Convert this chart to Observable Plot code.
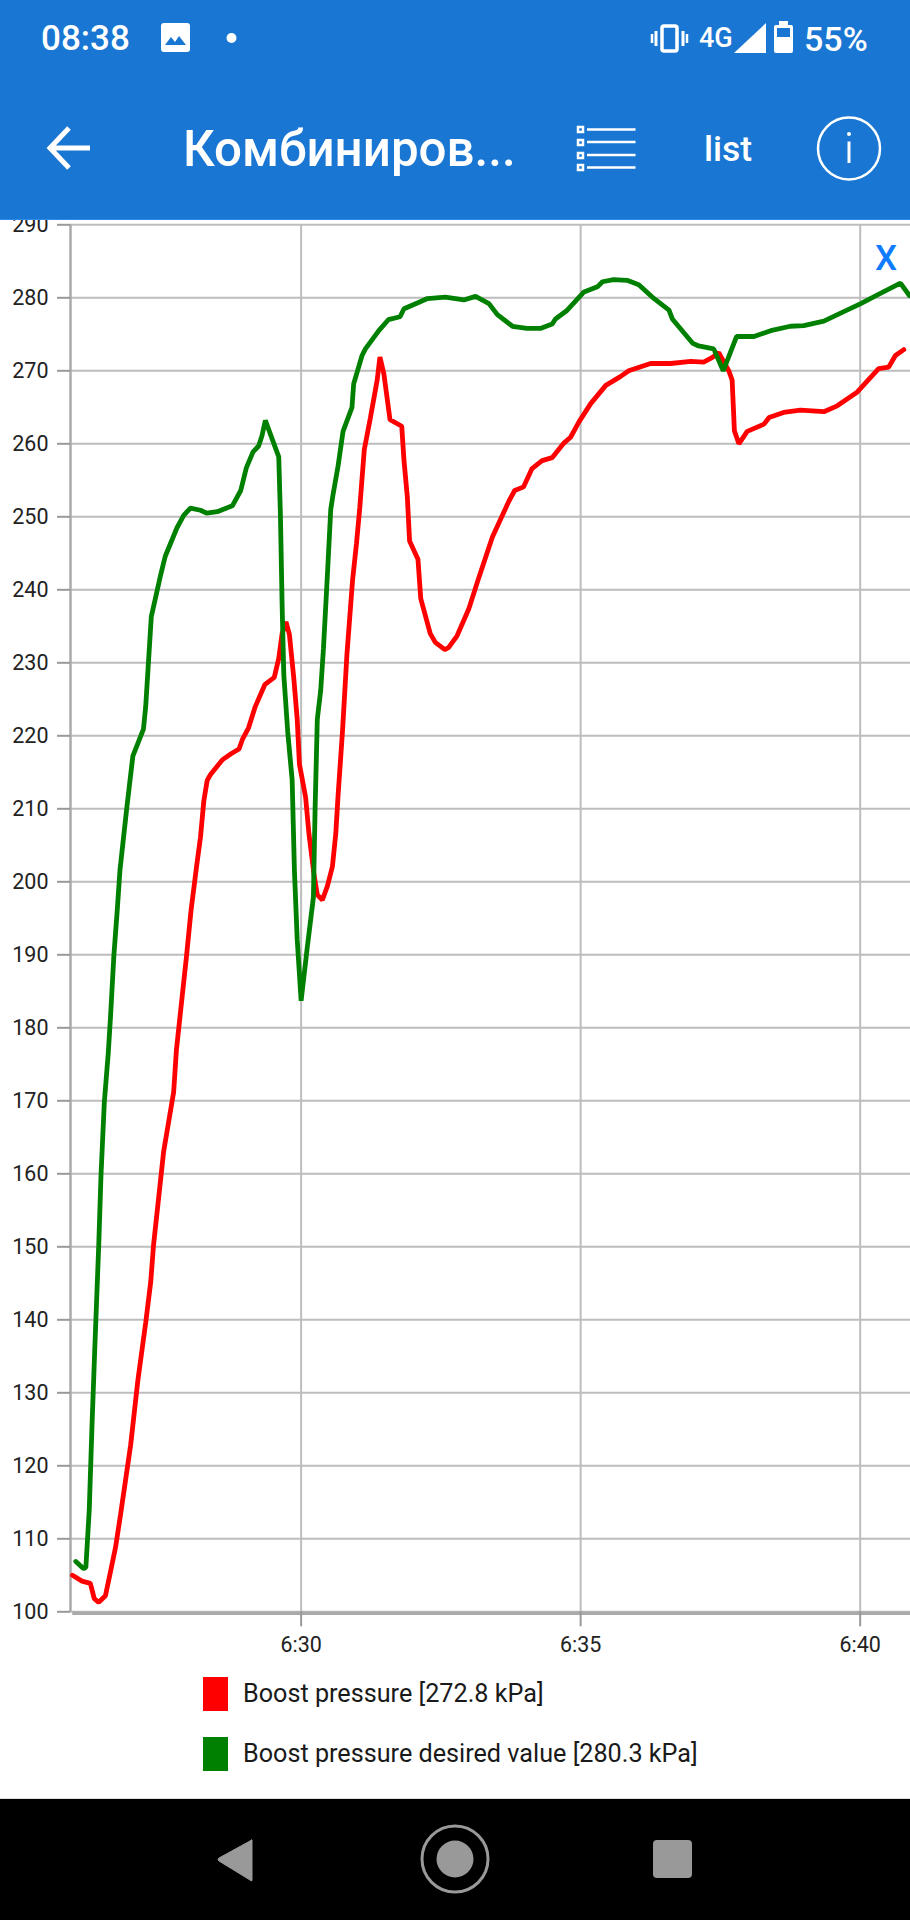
<!DOCTYPE html>
<html>
<head>
<meta charset="utf-8">
<script src="https://cdn.jsdelivr.net/npm/d3@7"></script>
<script src="https://cdn.jsdelivr.net/npm/@observablehq/plot@0.6"></script>
<style>
html,body{margin:0;padding:0;background:#fff;}
body{width:910px;height:1920px;position:relative;overflow:hidden;font-family:Roboto,sans-serif;}
#chart{position:absolute;left:0;top:200px;}
#chart svg{display:block;max-width:none;}
#header{position:absolute;left:0;top:0;width:910px;height:219px;background:#1976D2;border-bottom:1px solid #2a8cf0;color:#fff;}
.t{position:absolute;white-space:nowrap;line-height:1;}
#nav{position:absolute;left:0;top:1798px;width:910px;height:122px;background:#000;border-top:1px solid #ddd;box-sizing:border-box;}
.swatch{position:absolute;left:203px;width:25px;height:34px;}
.leg{position:absolute;left:243px;font-size:25.2px;color:#1a1a1a;line-height:34px;white-space:nowrap;}
svg.icons{position:absolute;left:0;top:0;}
</style>
</head>
<body>
<div id="chart"></div>
<div class="t" style="left:875px;top:241px;font-size:35px;font-weight:500;color:#0f7cff;">X</div>
<div id="header">
  <div class="t" style="left:41px;top:21px;font-size:35px;font-weight:500;">08:38</div>
  <div class="t" style="left:699px;top:25px;font-size:27px;font-weight:500;">4G</div>
  <div class="t" style="left:804px;top:22px;font-size:34px;font-weight:500;">55%</div>
  <div class="t" style="left:183px;top:125px;font-size:49.3px;font-weight:500;">Комбиниров...</div>
  <div class="t" style="left:704px;top:132px;font-size:35.5px;font-weight:500;">list</div>
  <svg class="icons" width="910" height="219" fill="none" stroke="#fff">
    <rect x="161" y="23" width="29" height="29" rx="3" fill="#fff" stroke="none"/>
    <path d="M165 45 l6 -8 l4 5 l4 -6 l7 9 z" fill="#1976D2" stroke="none"/>
    <circle cx="231.5" cy="38" r="5" fill="#fff" stroke="none"/>
    <rect x="662" y="26" width="15" height="25" rx="2" stroke-width="3.5"/>
    <path d="M656 31 v15 M683 31 v15" stroke-width="3"/>
    <path d="M652 34 v9 M687 34 v9" stroke-width="2.5"/>
    <path d="M734 53 L766 23 V53 Z" fill="#fff" stroke="none"/>
    <rect x="774" y="25" width="19" height="28" rx="2" fill="#fff" stroke="none"/>
    <rect x="779" y="21" width="9" height="5" fill="#fff" stroke="none"/>
    <rect x="777" y="28" width="13" height="9" fill="#1976D2" stroke="none"/>
    <path d="M50 148 H90 M69 128 L50 148 L69 168" stroke-width="5"/>
    <g stroke-width="2.5">
      <path d="M587 129.5 H635.5 M587 142 H635.5 M587 155 H635.5 M587 167.5 H635.5"/>
      <rect x="578" y="127" width="5" height="5"/>
      <rect x="578" y="140" width="5" height="5"/>
      <rect x="578" y="153" width="5" height="5"/>
      <rect x="578" y="165" width="5" height="5"/>
    </g>
    <circle cx="849" cy="148.5" r="31" stroke-width="2.5"/>
    <path d="M849 141.5 V163" stroke-width="3"/>
    <circle cx="849" cy="134" r="2" fill="#fff" stroke="none"/>
  </svg>
</div>
<div class="swatch" style="top:1677px;background:#ff0000;"></div>
<div class="leg" style="top:1677px;">Boost pressure [272.8 kPa]</div>
<div class="swatch" style="top:1737px;background:#008000;"></div>
<div class="leg" style="top:1737px;">Boost pressure desired value [280.3 kPa]</div>
<div id="nav">
  <svg class="icons" width="910" height="122" fill="#999">
    <path d="M252 41 V81 Q252 83 250 81 L219 62 Q217 61 219 59 L250 42 Q252 40 252 41 Z" stroke="#999" stroke-width="1"/>
    <circle cx="455" cy="60" r="33" fill="none" stroke="#999" stroke-width="3"/>
    <circle cx="455" cy="60" r="18.5"/>
    <rect x="653" y="41" width="39" height="38" rx="4"/>
  </svg>
</div>
<script>
const tickSeconds = [390, 395, 400];
const tickLabels = ["6:30", "6:35", "6:40"];
const yTicks = d3.range(100, 291, 10);
const xStart = 385.875;
const xEnd = 400.9;

// seconds relative to 6:30
const redTimes = [
 -4.09,-3.92,-3.77,-3.70,-3.62,-3.50,-3.41,-3.32,-3.23,-3.05,
 -2.92,-2.78,-2.69,-2.64,-2.46,-2.28,-2.23,-2.16,-2.05,-1.97,
 -1.87,-1.80,-1.74,-1.68,-1.62,-1.41,-1.26,-1.11,-1.05,-0.94,
 -0.82,-0.65,-0.48,-0.40,-0.34,-0.27,-0.21,-0.13,-0.07,-0.03,
 0.08,0.14,0.23,0.29,0.38,0.47,0.56,0.62,0.66,0.74,
 0.82,0.92,0.99,1.05,1.13,1.24,1.36,1.41,1.48,1.59,
 1.80,1.84,1.90,1.94,2.09,2.14,2.31,2.40,2.57,2.64,
 2.79,3.00,3.18,3.42,3.72,3.82,3.98,4.13,4.31,4.49,
 4.70,4.82,4.97,5.18,5.45,5.71,5.86,6.25,6.61,6.97,
 7.20,7.35,7.47,7.65,7.71,7.75,7.83,7.98,8.28,8.37,
 8.63,8.93,9.35,9.59,9.95,10.33,10.51,10.63,10.78
];
const redValues = [
 105,104.2,103.9,101.8,101.3,102.2,105.5,108.8,113.3,122.8,
 131.7,139.6,145.2,150.2,163,171.2,177,182,189.8,196,
 202.1,206.1,211.1,213.9,214.7,216.7,217.5,218.2,219.5,221.1,
 224,227,228,230.6,234,235.6,233.9,227.8,222.3,216.1,
 211.6,206.6,201,198.2,197.5,199.4,202.1,206.6,211.7,220.6,
 231.2,241.3,246.3,251.3,259.2,263.6,268.7,271.9,269.6,263.3,
 262.4,257.7,252.7,246.7,244.2,238.8,234,232.8,231.8,232.1,
 233.7,237.4,241.7,247.2,252.2,253.6,254.1,256.6,257.7,258.1,
 260.1,260.9,263,265.5,268,269.2,270,271,271,271.3,
 271.2,271.8,272.5,270,268.7,261.8,260,261.7,262.7,263.6,
 264.3,264.6,264.4,265.2,267.1,270.3,270.5,272.1,272.9
];
const greenTimes = [
 -4.03,-3.89,-3.85,-3.79,-3.74,-3.69,-3.62,-3.58,-3.52,-3.45,
 -3.41,-3.35,-3.29,-3.24,-3.12,-3.01,-2.82,-2.78,-2.68,-2.52,
 -2.43,-2.22,-2.10,-1.98,-1.80,-1.69,-1.50,-1.23,-1.08,-0.98,
 -0.86,-0.76,-0.70,-0.64,-0.40,-0.37,-0.34,-0.31,-0.24,-0.16,
 -0.12,-0.07,0,0.11,0.22,0.25,0.29,0.35,0.40,0.47,
 0.53,0.57,0.66,0.75,0.91,0.94,1.09,1.15,1.39,1.56,
 1.77,1.84,2.11,2.26,2.58,2.91,3.12,3.36,3.51,3.78,
 4.04,4.28,4.49,4.55,4.76,5.06,5.30,5.39,5.59,5.83,
 6.04,6.28,6.58,6.64,7.00,7.11,7.38,7.55,7.79,8.10,
 8.40,8.75,8.99,9.35,9.65,10.01,10.31,10.72,10.88
];
const greenValues = [
 106.9,105.9,106.1,113.9,125.6,136.2,150.2,159.7,169.8,176.5,
 181.4,189.8,196,201.6,210,217.2,220.9,224,236.3,241.8,
 244.6,248.5,250.2,251.2,250.9,250.5,250.7,251.5,253.6,256.7,
 258.9,259.7,261.1,263.2,258.2,250.2,238,228.4,220.6,213.9,
 201.6,192.1,183.7,191,197.9,210,222.3,226.2,232,242,
 251,253,256.9,261.7,265,268.2,272.1,273,275.5,277,
 277.4,278.5,279.4,279.9,280.1,279.7,280.2,279.2,277.7,276.1,
 275.8,275.8,276.4,277.1,278.3,280.8,281.5,282.2,282.5,282.4,
 281.8,280.1,278.3,277.1,273.8,273.4,273,270,274.7,274.7,
 275.5,276.1,276.2,276.8,277.9,279.2,280.4,282,280.3
];

const series = (times, values) => times.map((t, i) => ({t: 390 + t, v: values[i]}));
const red = series(redTimes, redValues);
const green = series(greenTimes, greenValues);
const labelOf = t => tickLabels[tickSeconds.indexOf(t)];

const chart = Plot.plot({
  width: 910,
  height: 1598,
  marginLeft: 70,
  marginRight: 0,
  marginTop: 24.3,
  marginBottom: 186.7,
  style: {background: "transparent", fontFamily: "Roboto, sans-serif", color: "#222"},
  x: {domain: [xStart, xEnd]},
  y: {domain: [100, 290]},
  marks: [
    Plot.ruleY(yTicks, {stroke: "#bdbdbd", strokeWidth: 2}),
    Plot.ruleX(tickSeconds, {stroke: "#bdbdbd", strokeWidth: 2}),
    Plot.ruleX([xStart], {stroke: "#aaaaaa", strokeWidth: 2.5}),
    Plot.ruleY([100], {stroke: "#aaaaaa", strokeWidth: 3.5, dy: 1.4, x1: xStart + 0.04, x2: xEnd}),
    Plot.axisY({ticks: yTicks, tickSize: 13, tickPadding: 9, fontSize: 21.5, stroke: "#999", strokeWidth: 2, label: null, tickFormat: d => d}),
    Plot.axisX({ticks: tickSeconds, tickSize: 15, tickPadding: 10, fontSize: 21.5, stroke: "#999", strokeWidth: 2, label: null, tickFormat: labelOf}),
    Plot.line(red, {x: "t", y: "v", stroke: "#ff0000", strokeWidth: 4.8, strokeLinejoin: "bevel"}),
    Plot.line(green, {x: "t", y: "v", stroke: "#008000", strokeWidth: 4.8, strokeLinejoin: "bevel"})
  ]
});
document.getElementById("chart").appendChild(chart);
</script>
</body>
</html>
